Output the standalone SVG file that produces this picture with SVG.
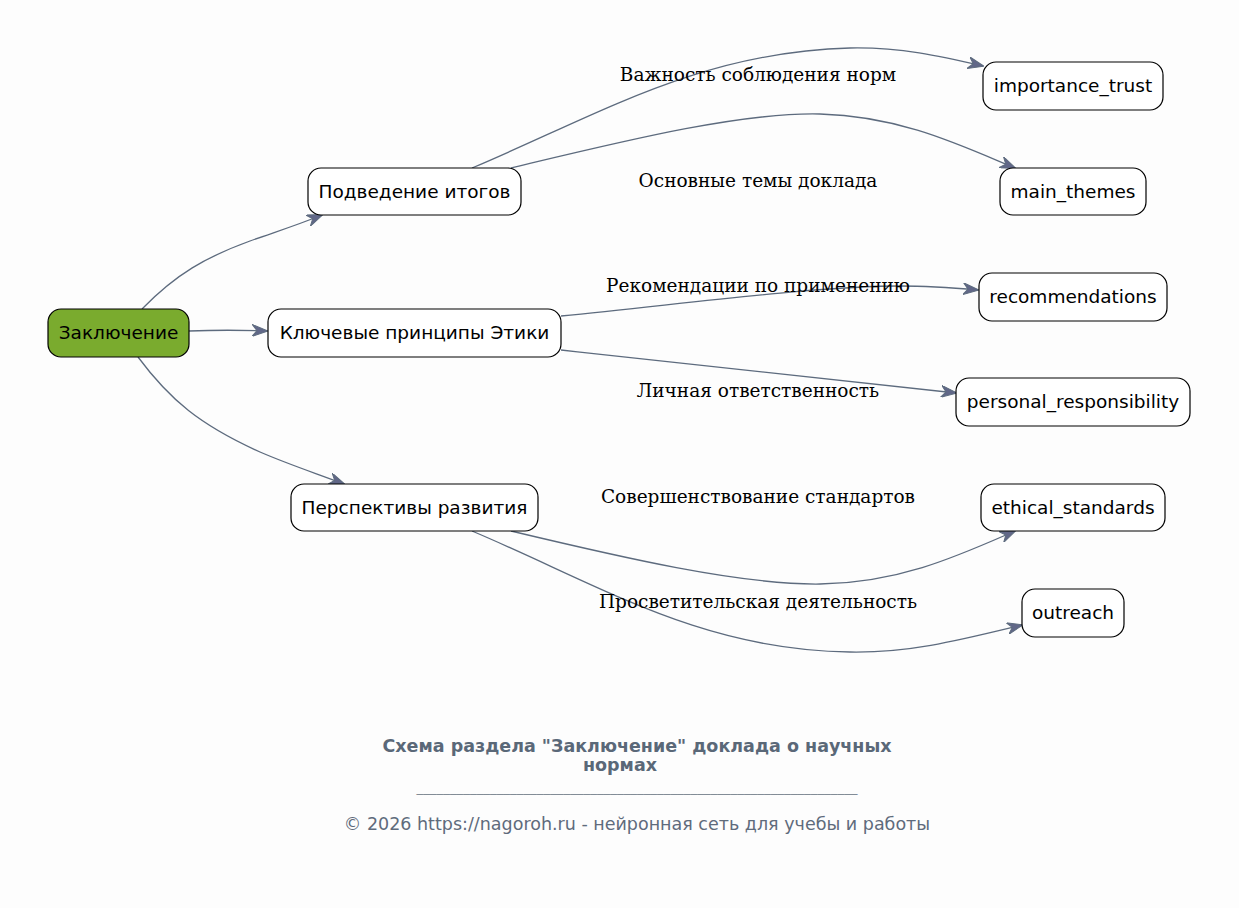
<svg xmlns="http://www.w3.org/2000/svg" width="1239" height="908" viewBox="0 0 1239 908">
<defs>
<marker id="arr" viewBox="0 0 16 12" refX="15" refY="6" markerWidth="16" markerHeight="12" markerUnits="userSpaceOnUse" orient="auto">
<path d="M0,0 L16,6 L0,12 L5,6 z" fill="#616788" stroke="#5d6b7e" stroke-width="1"/>
</marker>
<style>
.n rect{fill:#ffffff;stroke:#000000;stroke-width:1.2}
.n text{font-family:"DejaVu Sans",sans-serif;font-size:18.5px;fill:#000;text-anchor:middle}
.e path{fill:none;stroke:#5d6b7e;stroke-width:1.3;marker-end:url(#arr)}
.l{font-family:"DejaVu Serif",serif;font-size:18.5px;fill:#000;text-anchor:middle}
</style>
</defs>
<rect width="1239" height="908" fill="#fdfdfd"/>
<g id="connectors" class="e">
<path d="M142,309 C176,274 206,257 250,241 C272,233 295,226 322,215"/>
<path d="M189,331 C215,330 240,330 267,331"/>
<path d="M138,357 C170,400 200,425 260,452 C290,465 318,474 344,484"/>
<path d="M472,168 C600,114 700,52 850,48 C900,47 940,56 983,66"/>
<path d="M511,168 C620,142 740,112 820,114 C900,116 960,145 1015,168"/>
<path d="M561,316 C700,302 820,286 900,286 C930,286 955,288 978,290"/>
<path d="M561,350 C700,365 840,380 956,393"/>
<path d="M511,531 C620,557 740,585 820,584 C900,583 960,555 1015,531"/>
<path d="M472,531 C600,585 700,650 850,652 C910,653 960,640 1022,625"/>
</g>
<g id="labels">
<text class="l" x="758" y="81">Важность соблюдения норм</text>
<text class="l" x="758" y="187">Основные темы доклада</text>
<text class="l" x="758" y="292">Рекомендации по применению</text>
<text class="l" x="758" y="397">Личная ответственность</text>
<text class="l" x="758" y="503">Совершенствование стандартов</text>
<text class="l" x="758" y="608">Просветительская деятельность</text>
</g>
<g id="n_conclusion" class="n"><rect x="48" y="309" width="141" height="48" rx="13" style="fill:#7aab2e"/><text x="118.5" y="339">Заключение</text></g>
<g id="n_summary" class="n"><rect x="308" y="168" width="213" height="47" rx="13"/><text x="414.5" y="198">Подведение итогов</text></g>
<g id="n_principles" class="n"><rect x="268" y="309" width="293" height="48" rx="13"/><text x="414.5" y="339">Ключевые принципы Этики</text></g>
<g id="n_prospects" class="n"><rect x="291" y="484" width="247" height="47" rx="13"/><text x="414.5" y="514">Перспективы развития</text></g>
<g id="n_importance_trust" class="n"><rect x="983" y="62" width="180" height="48" rx="13"/><text x="1073" y="92">importance_trust</text></g>
<g id="n_main_themes" class="n"><rect x="1000" y="168" width="146" height="47" rx="13"/><text x="1073" y="198">main_themes</text></g>
<g id="n_recommendations" class="n"><rect x="979" y="273" width="188" height="48" rx="13"/><text x="1073" y="303">recommendations</text></g>
<g id="n_personal_responsibility" class="n"><rect x="956" y="378" width="234" height="48" rx="13"/><text x="1073" y="408">personal_responsibility</text></g>
<g id="n_ethical_standards" class="n"><rect x="981" y="484" width="184" height="47" rx="13"/><text x="1073" y="514">ethical_standards</text></g>
<g id="n_outreach" class="n"><rect x="1022" y="589" width="102" height="48" rx="13"/><text x="1073" y="619">outreach</text></g>
<g id="title" font-family="DejaVu Sans, sans-serif" text-anchor="middle">
<text x="637" y="752" font-size="17.5" font-weight="bold" fill="#5a6878">Схема раздела "Заключение" доклада о научных</text>
<text x="620" y="771" font-size="17.5" font-weight="bold" fill="#5a6878">нормах</text>
<text x="637" y="792" font-size="13" fill="#7a8590" textLength="441" lengthAdjust="spacingAndGlyphs">__________________________________________________________________</text>
<text x="637" y="830" font-size="17.5" fill="#5f6b7c">© 2026 https://nagoroh.ru - нейронная сеть для учебы и работы</text>
</g>
</svg>
